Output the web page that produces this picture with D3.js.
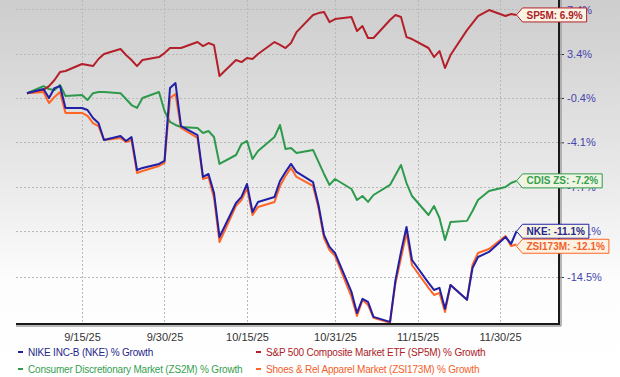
<!DOCTYPE html>
<html>
<head>
<meta charset="utf-8">
<script src="https://cdn.jsdelivr.net/npm/d3@7"></script>
<style>
    body { margin: 0; }
    text { font-family: Arial, "Liberation Sans", sans-serif; }
    .grid line { stroke: #b8b8b8; stroke-width: 1; stroke-dasharray: 2,2; shape-rendering: crispEdges; }
    .yaxis text { fill: #4545ad; font-size: 11px; }
    .yaxis line { stroke: #333; }
    .xaxis text { fill: #333; font-size: 11px; }
    .series { fill: none; stroke-width: 2; stroke-linejoin: round; }
    .legend text { font-size: 10px; letter-spacing: -0.2px; }
    .tag text { font-size: 10px; font-weight: bold; }
</style>
</head>
<body>
<svg id="chart"></svg>
<script>
var dates = [
    "2025-09-05", "2025-09-08", "2025-09-09", "2025-09-10", "2025-09-11", "2025-09-12",
    "2025-09-15", "2025-09-16", "2025-09-17", "2025-09-18", "2025-09-19",
    "2025-09-22", "2025-09-23", "2025-09-24", "2025-09-25", "2025-09-26",
    "2025-09-29", "2025-09-30", "2025-10-01", "2025-10-02", "2025-10-03",
    "2025-10-06", "2025-10-07", "2025-10-08", "2025-10-09", "2025-10-10",
    "2025-10-13", "2025-10-14", "2025-10-15", "2025-10-16", "2025-10-17",
    "2025-10-20", "2025-10-21", "2025-10-22", "2025-10-23", "2025-10-24",
    "2025-10-27", "2025-10-28", "2025-10-29", "2025-10-30", "2025-10-31",
    "2025-11-03", "2025-11-04", "2025-11-05", "2025-11-06", "2025-11-07",
    "2025-11-10", "2025-11-11", "2025-11-12", "2025-11-13", "2025-11-14",
    "2025-11-17", "2025-11-18", "2025-11-19", "2025-11-20", "2025-11-21",
    "2025-11-24", "2025-11-25", "2025-11-26", "2025-11-28",
    "2025-12-01", "2025-12-02", "2025-12-03"
];

// % growth since first day
var sp5m = [0, 0.27, 0.61, 1.13, 1.82, 1.91, 2.52, 2.43, 2.34, 2.96, 3.40, 3.84, 3.31, 2.87, 2.34, 2.87,
    3.13, 3.48, 3.93, 3.93, 3.93, 4.46, 4.10, 4.37, 4.19, 1.48, 2.87, 2.69, 3.05, 2.96, 3.40,
    4.46, 4.20, 3.93, 4.37, 5.35, 6.89, 7.07, 7.16, 6.25, 6.53, 6.71, 5.44, 5.89, 4.82, 4.82,
    6.44, 6.89, 6.71, 4.90, 4.73, 3.93, 3.13, 3.66, 2.17, 3.31, 5.53, 6.16, 6.80, 7.35,
    6.80, 6.98, 6.90];
var zs2m = [0, 0.61, 0.36, 0.27, 0.70, -0.24, -0.15, -0.58, 0, 0.10, 0.10, 0, -0.49, -1.00, -1.25, -0.41,
    0.10, -1.50, -2.42, -2.67, -2.84, -2.92, -3.33, -3.17, -3.66, -5.85, -5.13, -4.24, -3.99, -5.45, -4.81,
    -3.66, -2.67, -4.64, -4.56, -4.97, -4.72, -5.69, -6.65, -7.52, -7.05, -7.84, -8.70, -8.39, -8.85, -8.31,
    -7.52, -6.73, -5.93, -7.37, -8.39, -9.86, -9.16, -10.09, -11.76, -10.39, -10.31, -9.55, -8.70, -8.00,
    -7.68, -7.37, -7.20];
var nke = [0, 0.36, -0.41, 0.44, 0.61, -1.25, -1.25, -1.42, -2.09, -2.51, -3.91, -3.58, -3.99, -3.66, -6.33, -6.17,
    -5.85, -5.61, 0.44, 0.87, -2.76, -3.50, -6.89, -6.65, -8.15, -11.53, -8.93, -8.46, -7.44, -9.63, -8.85,
    -8.46, -7.21, -6.49, -5.85, -6.49, -7.29, -9.09, -11.38, -12.28, -12.73, -15.58, -17.08, -16.08, -16.30, -17.36,
    -17.71, -14.71, -12.65, -10.77, -13.25, -14.93, -15.44, -15.29, -16.79, -15.08, -16.15, -13.84, -13.03, -12.65,
    -11.53, -12.06, -11.10];
var zsi173m = [0, 0.10, -0.83, -0.32, 0.10, -1.67, -1.67, -1.92, -2.51, -2.76, -3.91, -3.74, -4.07, -3.91, -6.57, -6.41,
    -6.01, -5.77, -0.41, -0.07, -2.92, -3.74, -7.05, -6.89, -8.54, -11.91, -9.16, -8.70, -7.76, -9.86, -9.24,
    -8.85, -7.60, -6.81, -6.17, -6.89, -7.60, -9.32, -11.61, -12.51, -12.95, -15.94, -17.29, -16.15, -16.51, -17.43,
    -17.78, -14.93, -13.10, -11.23, -13.62, -15.29, -15.80, -15.65, -17.01, -15.08, -16.15, -13.62, -12.73, -12.43,
    -11.46, -12.21, -12.10];

var yTicks = [7.4, 3.4, -0.4, -4.1, -7.7, -11.1, -14.5];
var xTicks = ["2025-09-15", "2025-09-30", "2025-10-15", "2025-10-31", "2025-11-15", "2025-11-30"];

var series = [
    { name: "ZS2M", tag: "CDIS ZS", legend: "Consumer Discretionary Market (ZS2M) % Growth", values: zs2m, color: "#2e9a4c", text: "#35a04f", fill: "#eff5e2", col: 0, row: 1 },
    { name: "SP5M", tag: "SP5M", legend: "S&P 500 Composite Market ETF (SP5M) % Growth", values: sp5m, color: "#b3202a", text: "#ad2228", fill: "#fbf4e4", col: 1, row: 0 },
    { name: "ZSI173M", tag: "ZSI173M", legend: "Shoes & Rel Apparel Market (ZSI173M) % Growth", values: zsi173m, color: "#ff6526", text: "#f2612a", fill: "#fdf2e2", col: 1, row: 1 },
    { name: "NKE", tag: "NKE", legend: "NIKE INC-B (NKE) % Growth", values: nke, color: "#2020a6", text: "#26268c", fill: "#f5f3e4", col: 0, row: 0 }
];

var width = 620, height = 377;
var left = 16, right = 559, bottom = 324;

var parse = d3.timeParse("%Y-%m-%d");

var svg = d3.select("#chart")
    .attr("width", width)
    .attr("height", height);

var grad = svg.append("defs").append("linearGradient")
    .attr("id", "bg")
    .attr("x1", 0).attr("y1", 0).attr("x2", 0).attr("y2", 1);
grad.append("stop").attr("offset", "0").attr("stop-color", "#cdcdcd");
grad.append("stop").attr("offset", "0.45").attr("stop-color", "#e8e8e8");
grad.append("stop").attr("offset", "0.75").attr("stop-color", "#fdfdfd");
grad.append("stop").attr("offset", "1").attr("stop-color", "#ffffff");

svg.append("rect")
    .attr("width", width)
    .attr("height", height)
    .attr("fill", "url(#bg)");

var x = d3.scaleTime()
    .domain([parse("2025-09-03"), parse("2025-12-11")])
    .range([16, 560.5]);

// growth plotted on a log scale of (1 + g)
var y = d3.scaleLog()
    .domain([0.855, 1.034])
    .range([277, 54]);

function yv(g) { return y(1 + g / 100); }

// grid
var grid = svg.append("g").attr("class", "grid");
grid.selectAll(".h")
    .data(yTicks)
    .enter().append("line")
    .attr("x1", left).attr("x2", right)
    .attr("y1", d => Math.round(yv(d)) + 0.5)
    .attr("y2", d => Math.round(yv(d)) + 0.5);
grid.selectAll(".v")
    .data(xTicks)
    .enter().append("line")
    .attr("x1", d => Math.round(x(parse(d))) + 0.5)
    .attr("x2", d => Math.round(x(parse(d))) + 0.5)
    .attr("y1", 0).attr("y2", bottom);

// axes
var yAxis = d3.axisRight(y)
    .tickValues(yTicks.map(d => 1 + d / 100))
    .tickFormat(d => d3.format(".1f")((d - 1) * 100).replace("−", "-") + "%")
    .tickSize(5)
    .tickPadding(3);

svg.append("g")
    .attr("class", "yaxis")
    .attr("transform", "translate(" + right + ",0)")
    .call(yAxis)
    .call(g => g.select(".domain").remove());

var xAxis = d3.axisBottom(x)
    .tickValues(xTicks.map(parse))
    .tickFormat(d3.timeFormat("%-m/%-d/%y"))
    .tickSize(0)
    .tickPadding(9);

svg.append("g")
    .attr("class", "xaxis")
    .attr("transform", "translate(0," + bottom + ")")
    .call(xAxis)
    .call(g => g.select(".domain").remove());

// lines
var line = d3.line()
    .x(d => x(d.date))
    .y(d => yv(d.v));

series.forEach(function(s) {
    s.points = dates.map((d, i) => ({ date: parse(d), v: s.values[i] }));
    svg.append("path")
        .attr("class", "series")
        .attr("stroke", s.color)
        .attr("d", line(s.points));
});

// frame: right and bottom edges with soft shadow
svg.append("line").attr("x1", right + 2).attr("x2", right + 2).attr("y1", 0).attr("y2", bottom + 2)
    .attr("stroke", "#a0a0a0").attr("stroke-width", 1.5);
svg.append("line").attr("x1", left).attr("x2", right + 2).attr("y1", bottom + 2).attr("y2", bottom + 2)
    .attr("stroke", "#a0a0a0").attr("stroke-width", 1.5);
svg.append("line").attr("x1", right).attr("x2", right).attr("y1", 0).attr("y2", bottom + 1)
    .attr("stroke", "#1a1a1a").attr("stroke-width", 2);
svg.append("line").attr("x1", left).attr("x2", right + 1).attr("y1", bottom).attr("y2", bottom)
    .attr("stroke", "#1a1a1a").attr("stroke-width", 2);

// end-of-line tags
var tags = series.map(function(s) {
    var last = s.points[s.points.length - 1];
    return { s: s, x: x(last.date), y: yv(last.v), label: s.tag + ": " + d3.format(".1f")(last.v).replace("−", "-") + "%" };
}).sort((a, b) => a.y - b.y);
for (var i = 1; i < tags.length; i++) {
    if (tags[i].y - tags[i - 1].y < 15) tags[i].y = tags[i - 1].y + 15;
}

tags.forEach(function(t) {
    var g = svg.append("g").attr("class", "tag");
    var txt = g.append("text")
        .attr("x", t.x + 10)
        .attr("y", t.y)
        .attr("dy", "0.36em")
        .attr("fill", t.s.text)
        .text(t.label);
    var w = txt.node().getComputedTextLength();
    var x0 = t.x, x1 = t.x + 6, x2 = t.x + 14 + w, h = 7;
    g.insert("path", "text")
        .attr("d", "M" + x0 + "," + t.y + "L" + x1 + "," + (t.y - h) + "L" + x2 + "," + (t.y - h) +
            "L" + x2 + "," + (t.y + h) + "L" + x1 + "," + (t.y + h) + "Z")
        .attr("fill", t.s.fill)
        .attr("stroke", t.s.color)
        .attr("stroke-width", 1);
});

// legend
var legend = svg.append("g").attr("class", "legend");
var cols = [18, 256], rows = [352, 369];
series.forEach(function(s) {
    var lx = cols[s.col], ly = rows[s.row];
    legend.append("line")
        .attr("x1", lx).attr("x2", lx + 5)
        .attr("y1", ly).attr("y2", ly)
        .attr("stroke", s.color).attr("stroke-width", 2);
    legend.append("text")
        .attr("x", lx + 10)
        .attr("y", ly)
        .attr("dy", "0.35em")
        .attr("fill", s.text)
        .text(s.legend);
});
</script>
</body>
</html>
